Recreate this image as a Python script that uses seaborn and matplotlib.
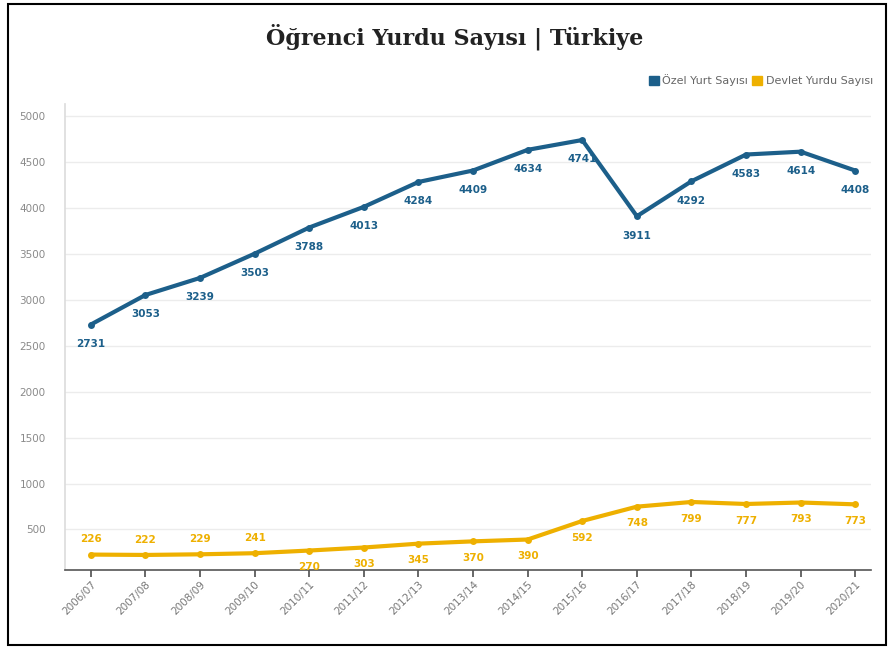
import matplotlib
matplotlib.use("Agg")
import matplotlib.pyplot as plt
import seaborn as sns
import pandas as pd
from matplotlib.patches import Rectangle

years = ["2006/07", "2007/08", "2008/09", "2009/10", "2010/11", "2011/12", "2012/13",
         "2013/14", "2014/15", "2015/16", "2016/17", "2017/18", "2018/19", "2019/20", "2020/21"]
ozel = [2731, 3053, 3239, 3503, 3788, 4013, 4284, 4409, 4634, 4741, 3911, 4292, 4583, 4614, 4408]
devlet = [226, 222, 229, 241, 270, 303, 345, 370, 390, 592, 748, 799, 777, 793, 773]
series_names = ["Özel Yurt Sayısı", "Devlet Yurdu Sayısı"]
yticks = [500, 1000, 1500, 2000, 2500, 3000, 3500, 4000, 4500, 5000]

blue = "#1c5f8a"
gold = "#eeb000"

sns.set_theme(style="white")
plt.rcParams['font.family'] = ['DejaVu Sans']

df = pd.DataFrame({
    "x": list(range(len(years))) * 2,
    "value": ozel + devlet,
    "series": [series_names[0]] * len(years) + [series_names[1]] * len(years),
})

fig = plt.figure(figsize=(8.92, 6.49), dpi=100)
ax = fig.add_axes([0.073, 0.122, 0.903, 0.718])

sns.lineplot(data=df, x="x", y="value", hue="series", palette=[blue, gold],
             linewidth=3.0, marker="o", markersize=5, markeredgewidth=0,
             legend=False, ax=ax)

ax.set_xlim(-0.47, 14.28)
ax.set_ylim(60, 5135)
ax.set_yticks(yticks)
ax.set_yticklabels([str(v) for v in yticks], fontsize=7.5, color="#8a8a8a")
ax.set_xticks(range(len(years)))
ax.set_xticklabels(years, rotation=45, ha="right", rotation_mode="anchor",
                   fontsize=7.5, color="#777777")
ax.set_xlabel("")
ax.set_ylabel("")
ax.grid(axis="y", color="#ececec", linewidth=1)
ax.set_axisbelow(True)
for s in ["top", "right"]:
    ax.spines[s].set_visible(False)
ax.spines["left"].set_color("#dddddd")
ax.spines["bottom"].set_color("#555555")
ax.spines["bottom"].set_linewidth(1.2)
ax.tick_params(axis="x", bottom=True, length=5, color="#555555", pad=2)
ax.tick_params(axis="y", left=False, pad=8)

for i, v in enumerate(ozel):
    ax.annotate(str(v), (i, v), xytext=(0, -14), textcoords="offset points",
                ha="center", va="center", fontsize=7.5, color=blue, fontweight="bold")
for i, v in enumerate(devlet):
    off = 11 if i < 4 else -12
    ax.annotate(str(v), (i, v), xytext=(0, off), textcoords="offset points",
                ha="center", va="center", fontsize=7.5, color=gold, fontweight="bold")

fig.text(0.51, 0.943, "Öğrenci Yurdu Sayısı | Türkiye", ha="center", va="center",
         fontsize=16, fontweight="bold", family="DejaVu Serif", color="#222222")

# legend
handles = [Rectangle((0, 0), 1, 1, color=blue), Rectangle((0, 0), 1, 1, color=gold)]
fig.legend(handles, series_names, loc="center right", bbox_to_anchor=(0.99, 0.876),
           ncol=2, frameon=False, fontsize=8, handlelength=0.9, handleheight=0.9,
           handletextpad=0.3, columnspacing=0.4, labelcolor="#666666")

# border
fig.patches.append(Rectangle((0.009, 0.006), 0.984, 0.988, transform=fig.transFigure,
                             fill=False, edgecolor="black", linewidth=1.5))

fig.savefig("out.png", dpi=100)
